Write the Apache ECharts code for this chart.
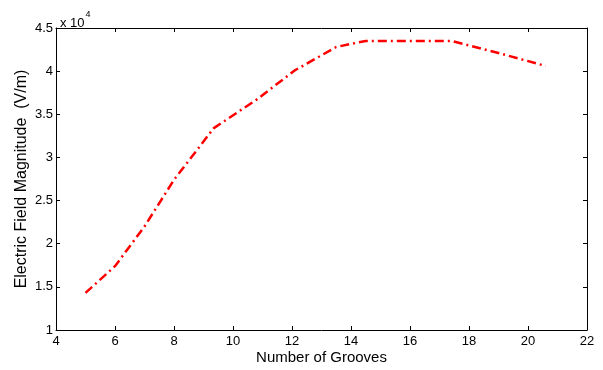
<!DOCTYPE html>
<html>
<head>
<meta charset="utf-8">
<script src="https://cdn.jsdelivr.net/npm/echarts@6/dist/echarts.min.js"></script>
<style>
  html, body { margin: 0; padding: 0; background: #fff; }
  #chart { width: 603px; height: 370px; }
</style>
</head>
<body>
<div id="chart"></div>
<script>
// grooves vs field magnitude (in units of 1e4 V/m)
const grooves = [5, 6, 7, 8, 9.35, 10.8, 12.1, 13.5, 14.5, 17.4, 19, 20.6]
const fieldE4 = [1.43, 1.74, 2.2, 2.74, 3.34, 3.67, 4.01, 4.28, 4.35, 4.35, 4.21, 4.06]
const xTicks = [4, 6, 8, 10, 12, 14, 16, 18, 20, 22]
const yTicks = [1, 1.5, 2, 2.5, 3, 3.5, 4, 4.5]

const chart = echarts.init(document.getElementById('chart'))

const font = 'Liberation Sans, Arial, sans-serif'
const axisColor = '#000'

const baseAxis = {
  axisLine: { show: true, onZero: false, lineStyle: { color: axisColor, width: 1 } },
  axisTick: { show: true, inside: true, length: 4, lineStyle: { color: axisColor } },
  splitLine: { show: false }
}

const option = {
  animation: false,
  backgroundColor: '#fff',
  title: {
    text: '{a|x 10}{b|4}',
    left: 55,
    top: 5,
    textStyle: {
      fontWeight: 'normal',
      rich: {
        a: { fontSize: 13, fontFamily: font, fontWeight: 'normal', color: '#000', verticalAlign: 'bottom', padding: [7, 0, 0, 0] },
        b: { fontSize: 9, fontFamily: font, fontWeight: 'normal', color: '#000', verticalAlign: 'top', padding: [0, 0, 8, 1] }
      }
    }
  },
  grid: { left: 56, right: 16, top: 28, bottom: 39 },
  xAxis: [
    {
      ...baseAxis,
      type: 'value',
      min: xTicks[0],
      max: xTicks[xTicks.length - 1],
      interval: 2,
      position: 'bottom',
      name: 'Number of Grooves',
      nameLocation: 'middle',
      nameGap: 20,
      nameMoveOverlap: false,
      nameTextStyle: { fontSize: 15, fontFamily: font, color: '#000' },
      axisLabel: { fontSize: 13, fontFamily: font, color: '#000', margin: 5 }
    },
    {
      ...baseAxis,
      type: 'value',
      min: xTicks[0],
      max: xTicks[xTicks.length - 1],
      interval: 2,
      position: 'top',
      axisLabel: { show: false }
    }
  ],
  yAxis: [
    {
      ...baseAxis,
      type: 'value',
      min: yTicks[0],
      max: yTicks[yTicks.length - 1],
      interval: 0.5,
      position: 'left',
      name: 'Electric Field Magnitude  (V/m)',
      nameLocation: 'middle',
      nameGap: 26,
      nameMoveOverlap: false,
      nameTextStyle: { fontSize: 16, fontFamily: font, color: '#000' },
      axisLabel: { fontSize: 13, fontFamily: font, color: '#000', margin: 3 }
    },
    {
      ...baseAxis,
      type: 'value',
      min: yTicks[0],
      max: yTicks[yTicks.length - 1],
      interval: 0.5,
      position: 'right',
      axisLabel: { show: false }
    }
  ],
  series: [
    {
      type: 'line',
      data: grooves.map((g, i) => [g, fieldE4[i]]),
      showSymbol: false,
      lineStyle: { color: '#ff0000', width: 2.5, type: [9, 4, 2, 4] }
    }
  ]
}

chart.setOption(option)
</script>
</body>
</html>
